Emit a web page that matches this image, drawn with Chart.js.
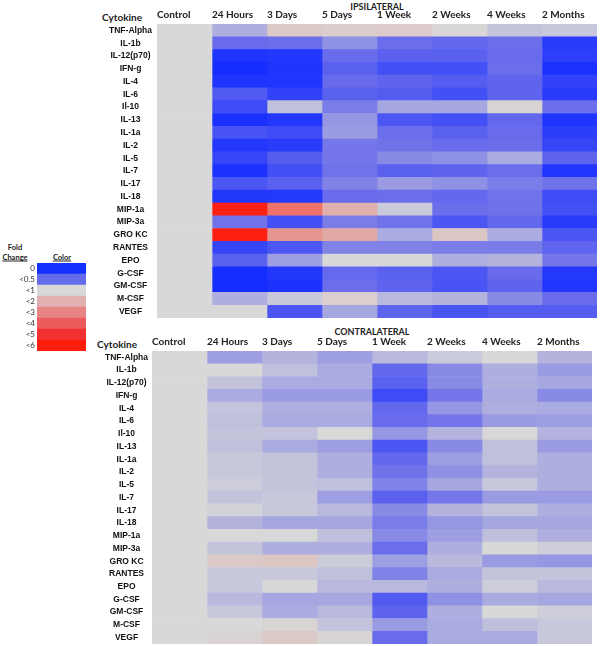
<!DOCTYPE html>
<html>
<head>
<meta charset="utf-8">
<script src="https://cdn.jsdelivr.net/npm/chart.js@4"></script>
<style>
  body { margin: 0; background: #fff; width: 600px; height: 646px; position: relative; overflow: hidden; }
  .lbl { position: absolute; font-family: Lato, sans-serif; font-weight: 700; color: #222; white-space: nowrap; transform: translate(-50%, -50%); }
  canvas { position: absolute; }
</style>
</head>
<body>
<div class="lbl" style="left:377px; top:6px; font-size:9px;">IPSILATERAL</div>
<div class="lbl" style="left:122px; top:17px; font-size:10px;">Cytokine</div>
<div class="lbl" style="left:372px; top:331px; font-size:9px;">CONTRALATERAL</div>
<div class="lbl" style="left:117px; top:344px; font-size:10px;">Cytokine</div>
<div class="lbl" style="left:15px; top:247px; font-size:7.5px;">Fold</div>
<div class="lbl" style="left:15px; top:257px; font-size:7.5px; text-decoration:underline;">Change</div>
<div class="lbl" style="left:62px; top:257px; font-size:7.5px; text-decoration:underline;">Color</div>

<canvas id="legend" width="86" height="88" style="left:0px; top:263px;"></canvas>
<canvas id="ipsi" width="502" height="308" style="left:95px; top:10px;"></canvas>
<canvas id="contra" width="502" height="307" style="left:90px; top:337px;"></canvas>

<script>
const cytokines = ['TNF-Alpha', 'IL-1b', 'IL-12(p70)', 'IFN-g', 'IL-4', 'IL-6', 'Il-10', 'IL-13', 'IL-1a',
  'IL-2', 'IL-5', 'IL-7', 'IL-17', 'IL-18', 'MIP-1a', 'MIP-3a', 'GRO KC', 'RANTES', 'EPO', 'G-CSF',
  'GM-CSF', 'M-CSF', 'VEGF'];
const timepoints = ['Control', '24 Hours', '3 Days', '5 Days', '1 Week', '2 Weeks', '4 Weeks', '2 Months'];

// fold change vs control, one array per time point (cytokine order above)
const control = [1,1,1,1,1,1,1,1,1,1,1,1,1,1,1,1,1,1,1,1,1,1,1];

const ipsi24h = [0.8,0.45,0.05,0.0,0.05,0.33,0.22,0.02,0.28,0.07,0.18,0.03,0.3,0.07,6,0.5,6,0.18,0.38,0.0,0.0,0.8,1.0];
const ipsi3d  = [1.4,0.47,0.07,0.05,0.06,0.15,0.88,0.07,0.22,0.1,0.35,0.25,0.38,0.08,3.8,0.25,2.8,0.3,0.72,0.08,0.04,0.92,0.3];
const ipsi5d  = [1.3,0.65,0.45,0.38,0.45,0.38,0.55,0.68,0.7,0.52,0.52,0.5,0.58,0.45,2.1,0.55,2.3,0.58,1.0,0.43,0.47,1.25,0.76];
const ipsi1w  = [1.35,0.47,0.38,0.25,0.4,0.35,0.76,0.3,0.47,0.5,0.62,0.38,0.7,0.47,0.93,0.5,0.78,0.58,1.0,0.38,0.4,0.85,0.4];
const ipsi2w  = [1.05,0.43,0.38,0.25,0.35,0.25,0.76,0.25,0.38,0.45,0.65,0.4,0.65,0.43,0.47,0.3,1.5,0.55,0.8,0.3,0.28,0.82,0.28];
const ipsi4w  = [0.9,0.47,0.45,0.47,0.4,0.4,1.1,0.43,0.45,0.47,0.78,0.47,0.55,0.5,0.5,0.43,0.78,0.55,0.82,0.45,0.4,0.62,0.35];
const ipsi2m  = [0.92,0.1,0.13,0.03,0.15,0.1,0.48,0.05,0.12,0.18,0.4,0.06,0.5,0.22,0.25,0.1,0.3,0.4,0.52,0.08,0.06,0.45,0.35];

const contra24h = [0.72,1.0,0.9,0.78,0.9,0.88,0.9,0.88,0.92,0.92,0.94,0.9,0.97,0.82,1.0,0.9,1.4,0.92,0.92,0.85,0.92,1.0,1.15];
const contra3d  = [0.82,0.88,0.78,0.7,0.8,0.78,0.9,0.78,0.9,0.9,0.9,0.92,0.92,0.76,1.0,0.8,1.5,0.92,1.0,0.76,0.78,1.1,1.4];
const contra5d  = [0.72,0.78,0.78,0.7,0.8,0.78,1.0,0.72,0.8,0.8,0.88,0.72,0.85,0.76,0.88,0.8,0.94,0.88,0.85,0.76,0.85,0.9,1.1];
const contra1w  = [0.85,0.43,0.38,0.22,0.43,0.45,0.68,0.3,0.43,0.5,0.58,0.38,0.62,0.55,0.62,0.47,0.72,0.58,0.85,0.33,0.4,0.7,0.45];
const contra2w  = [0.93,0.62,0.62,0.52,0.68,0.52,0.82,0.62,0.72,0.65,0.76,0.52,0.82,0.68,0.72,0.8,0.85,0.78,0.8,0.65,0.8,0.78,0.78];
const contra4w  = [1.0,0.8,0.8,0.78,0.8,0.7,1.05,0.88,0.88,0.82,0.92,0.7,0.9,0.76,0.88,1.0,0.7,0.9,0.95,0.78,1.0,0.88,0.78];
const contra2m  = [0.82,0.7,0.76,0.62,0.78,0.72,0.82,0.7,0.8,0.8,0.8,0.7,0.8,0.76,0.8,0.95,0.68,0.9,0.85,0.76,0.95,0.92,0.92];

const legendLabels = ['0', '<0.5', '<1', '<2', '<3', '<4', '<5', '<6'];
const legendColors = ['rgb(20,50,255)', 'rgb(100,108,236)', 'rgb(216,216,216)', 'rgb(226,176,176)',
  'rgb(231,132,132)', 'rgb(236,92,92)', 'rgb(242,50,48)', 'rgb(255,30,12)'];

// colour stops: deep blue at 0, violet-blue at 0.5, grey at 1 (no change), red at 6
const BLUE = [22, 45, 255], MIDBLUE = [112, 114, 234], GRAY = [216, 216, 216], RED = [255, 32, 20];

function mix(a, b, t) {
  return 'rgb(' + a.map((v, i) => Math.round(v + (b[i] - v) * t)).join(',') + ')';
}

function foldColor(v) {
  if (v <= 0.5) return mix(BLUE, MIDBLUE, Math.max(0, v) / 0.5);
  if (v <= 1) return mix(MIDBLUE, GRAY, (v - 0.5) / 0.5);
  return mix(GRAY, RED, Math.min(1, (v - 1) / 5));
}

// stop chart.js reserving room for half a label above/below the cells
function noEdgePadding(axis) {
  axis.paddingTop = 0;
  axis.paddingBottom = 0;
  axis.paddingLeft = 0;
  axis.paddingRight = 0;
}

function makeHeatmap(id, columns, labelPad) {
  const datasets = columns.map((col, c) => ({
    label: timepoints[c],
    data: col.map(() => 1),
    backgroundColor: col.map(foldColor),
    borderWidth: 0,
    barPercentage: 1,
    categoryPercentage: 1
  }));

  return new Chart(document.getElementById(id), {
    type: 'bar',
    data: { labels: cytokines, datasets: datasets },
    options: {
      indexAxis: 'y',
      responsive: false,
      animation: false,
      layout: { padding: 0 },
      plugins: { legend: { display: false }, tooltip: { enabled: false } },
      scales: {
        x: {
          type: 'linear',
          position: 'top',
          stacked: true,
          min: 0,
          max: 8,
          grid: { display: false, drawTicks: false },
          border: { display: false },
          afterBuildTicks: axis => { axis.ticks = timepoints.map((t, i) => ({ value: i })); },
          afterFit: axis => { axis.height = 14; noEdgePadding(axis); },
          ticks: {
            callback: (v, i) => timepoints[i],
            align: 'start',
            autoSkip: false,
            maxRotation: 0,
            padding: 3,
            color: '#222',
            font: { family: 'Lato', weight: 'bold', size: 10 }
          }
        },
        y: {
          stacked: true,
          grid: { display: false, drawTicks: false },
          border: { display: false },
          afterFit: axis => { axis.width = 62; noEdgePadding(axis); },
          ticks: {
            autoSkip: false,
            crossAlign: 'center',
            padding: labelPad,
            color: '#111',
            font: { family: 'Liberation Sans', weight: 'bold', size: 8.5 }
          }
        }
      }
    }
  });
}

makeHeatmap('ipsi', [control, ipsi24h, ipsi3d, ipsi5d, ipsi1w, ipsi2w, ipsi4w, ipsi2m], 5);
makeHeatmap('contra', [control, contra24h, contra3d, contra5d, contra1w, contra2w, contra4w, contra2m], 4);

new Chart(document.getElementById('legend'), {
  type: 'bar',
  data: {
    labels: legendLabels,
    datasets: [{
      data: legendLabels.map(() => 1),
      backgroundColor: legendColors,
      borderWidth: 0,
      barPercentage: 1,
      categoryPercentage: 1
    }]
  },
  options: {
    indexAxis: 'y',
    responsive: false,
    animation: false,
    layout: { padding: 0 },
    plugins: { legend: { display: false }, tooltip: { enabled: false } },
    scales: {
      x: { display: false, min: 0, max: 1 },
      y: {
        grid: { display: false, drawTicks: false },
        border: { display: false },
        afterFit: axis => { axis.width = 37; noEdgePadding(axis); },
        ticks: {
          autoSkip: false,
          padding: 2,
          color: '#333',
          font: { family: 'Lato', size: 8 }
        }
      }
    }
  }
});
</script>
</body>
</html>
